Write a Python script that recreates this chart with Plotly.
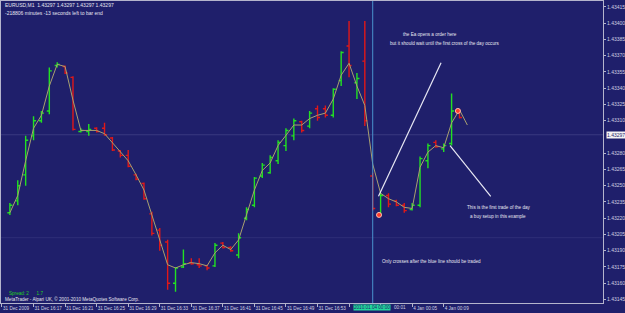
import plotly.graph_objects as go

# ---------------- data ----------------
bar_idx = list(range(1, 59))
opens = [1.43225, 1.43236, 1.43260, 1.43296, 1.43310, 1.43319, 1.43361, 1.43360, 1.43350, 1.43300,
         1.43300, 1.43303, 1.43303, 1.43294, 1.43282, 1.43278, 1.43260, 1.43252, 1.43224, 1.43209,
         1.43198, 1.43160, 1.43175, 1.43179, 1.43177, 1.43176, 1.43176, 1.43197, 1.43193, 1.43186,
         1.43220, 1.43232, 1.43259, 1.43262, 1.43273, 1.43287, 1.43296, 1.43309, 1.43305, 1.43321,
         1.43321, 1.43315, 1.43347, 1.43379, 1.43345, 1.43365, 1.43259, 1.43224, 1.43241, 1.43236,
         1.43232, 1.43228, 1.43232, 1.43273, 1.43290, 1.43284, 1.43289, 1.43319]
highs = [1.43234, 1.43255, 1.43296, 1.43314, 1.43319, 1.43359, 1.43364, 1.43361, 1.43351, 1.43303,
         1.43307, 1.43304, 1.43308, 1.43295, 1.43283, 1.43283, 1.43261, 1.43253, 1.43226, 1.43211,
         1.43200, 1.43175, 1.43191, 1.43183, 1.43183, 1.43177, 1.43197, 1.43198, 1.43194, 1.43206,
         1.43230, 1.43258, 1.43271, 1.43278, 1.43292, 1.43303, 1.43312, 1.43310, 1.43319, 1.43324,
         1.43324, 1.43340, 1.43374, 1.43402, 1.43354, 1.43402, 1.43262, 1.43243, 1.43243, 1.43237,
         1.43234, 1.43234, 1.43277, 1.43289, 1.43292, 1.43289, 1.43335, 1.43321]
lows = [1.43223, 1.43232, 1.43250, 1.43292, 1.43308, 1.43316, 1.43359, 1.43353, 1.43301, 1.43299,
        1.43296, 1.43299, 1.43296, 1.43282, 1.43276, 1.43267, 1.43255, 1.43237, 1.43204, 1.43190,
        1.43154, 1.43152, 1.43174, 1.43177, 1.43174, 1.43172, 1.43175, 1.43192, 1.43189, 1.43183,
        1.43218, 1.43230, 1.43257, 1.43261, 1.43270, 1.43282, 1.43292, 1.43299, 1.43303, 1.43310,
        1.43313, 1.43313, 1.43342, 1.43350, 1.43330, 1.43305, 1.43227, 1.43223, 1.43230, 1.43231,
        1.43225, 1.43227, 1.43230, 1.43266, 1.43285, 1.43281, 1.43287, 1.43312]
closes = [1.43232, 1.43250, 1.43292, 1.43310, 1.43317, 1.43356, 1.43362, 1.43354, 1.43302, 1.43301,
          1.43302, 1.43300, 1.43297, 1.43283, 1.43278, 1.43268, 1.43256, 1.43238, 1.43206, 1.43195,
          1.43160, 1.43174, 1.43178, 1.43178, 1.43176, 1.43174, 1.43195, 1.43193, 1.43190, 1.43202,
          1.43228, 1.43257, 1.43269, 1.43276, 1.43290, 1.43301, 1.43310, 1.43301, 1.43317, 1.43313,
          1.43315, 1.43339, 1.43373, 1.43361, 1.43349, 1.43310, 1.43229, 1.43241, 1.43233, 1.43232,
          1.43227, 1.43232, 1.43275, 1.43287, 1.43286, 1.43287, 1.43319, 1.43313]

ma_idx = list(range(1, 60))
ma_vals = [1.43225, 1.43241, 1.43273, 1.43303, 1.43315, 1.43342, 1.43362, 1.43360, 1.43329, 1.43301,
           1.43301, 1.43301, 1.43298, 1.43290, 1.43281, 1.43273, 1.43260, 1.43246, 1.43223, 1.43200,
           1.43177, 1.43174, 1.43177, 1.43179, 1.43178, 1.43176, 1.43188, 1.43195, 1.43191, 1.43200,
           1.43223, 1.43246, 1.43264, 1.43271, 1.43287, 1.43296, 1.43306, 1.43306, 1.43312, 1.43315,
           1.43317, 1.43330, 1.43352, 1.43363, 1.43342, 1.43324, 1.43270, 1.43243, 1.43238, 1.43235,
           1.43230, 1.43229, 1.43267, 1.43281, 1.43287, 1.43285, 1.43308, 1.43320, 1.43306]

order_idx = [47.8, 57.8]
order_price = [1.43223, 1.43319]

price_ticks = [1.43415, 1.43400, 1.43385, 1.43370, 1.43355, 1.43340, 1.43325, 1.43310,
               1.43280, 1.43265, 1.43250, 1.43235, 1.43220, 1.43205, 1.43190, 1.43175,
               1.43160, 1.43145]
price_labels = ["1.43415", "1.43400", "1.43385", "1.43370", "1.43355", "1.43340", "1.43325", "1.43310",
                "1.43280", "1.43265", "1.43250", "1.43235", "1.43220", "1.43205", "1.43190", "1.43175",
                "1.43160", "1.43145"]
current_price = 1.43297
day_line_price = 1.43202

time_tick_idx = [0, 4, 8, 12, 16, 20, 24, 28, 32, 36, 40, 44, 48, 52, 56]
time_tick_labels = ["31 Dec 2009", "31 Dec 16:17", "31 Dec 16:21", "31 Dec 16:25", "31 Dec 16:29",
                    "31 Dec 16:33", "31 Dec 16:37", "31 Dec 16:41", "31 Dec 16:45", "31 Dec 16:49",
                    "31 Dec 16:53", "", "", "4 Jan 00:05", "4 Jan 00:09"]
new_day_idx = 47
cursor_time_label = "2010.01.04 00:00"
partial_label = "00:01"

# ---------------- layout constants ----------------
W, H = 625, 313
MR, MB = 19, 10
PW, PH = W - MR, H - MB
BG = "#1f1f6b"
FRAME = "#b4b4cc"
FONT = "Liberation Sans"
PX_PER_BAR = 7.94
x0 = -1 / PX_PER_BAR
x1 = x0 + PW / PX_PER_BAR
y_lo, y_hi = 1.431417, 1.434205


def px(xp):
    return x0 + xp / PX_PER_BAR


def py(yp):
    return y_hi - (y_hi - y_lo) * yp / PH


fig = go.Figure()

fig.add_trace(go.Scatter(x=ma_idx, y=ma_vals, mode="lines",
                         line=dict(color="#a8a070", width=1), hoverinfo="skip", showlegend=False))

fig.add_trace(go.Ohlc(x=bar_idx, open=opens, high=highs, low=lows, close=closes,
                      increasing=dict(line=dict(color="#22e022", width=1.4)),
                      decreasing=dict(line=dict(color="#e01818", width=1.4)),
                      tickwidth=0.32, showlegend=False))

fig.add_trace(go.Scatter(x=order_idx, y=order_price, mode="markers",
                         marker=dict(color="#ff3a2a", size=5, line=dict(color="#ffc0b0", width=1)),
                         showlegend=False))

shapes = [
    dict(type="line", xref="paper", x0=0, x1=1, yref="y", y0=current_price, y1=current_price,
         line=dict(color="#3a3a80", width=1), layer="below"),
    dict(type="line", xref="paper", x0=0, x1=1, yref="y", y0=day_line_price, y1=day_line_price,
         line=dict(color="#2e2e78", width=1), layer="below"),
    dict(type="line", xref="x", x0=new_day_idx, x1=new_day_idx, yref="paper", y0=0, y1=1,
         line=dict(color="#4a92cc", width=1)),
    dict(type="line", xref="x", yref="y", x0=px(380), y0=py(196), x1=px(443), y1=py(62),
         line=dict(color="#e8e8f4", width=1.2)),
    dict(type="line", xref="x", yref="y", x0=px(452), y0=py(145), x1=px(493), y1=py(196),
         line=dict(color="#e8e8f4", width=1.2)),
]

TXT = "#e6e6f0"
annots = []


def note(text, xp, yp, color=TXT, size=4.6, anchor="left", bg=None):
    d = dict(text=text, xref="paper", yref="paper", x=xp / PW, y=1 - yp / PH,
             xanchor=anchor, yanchor="middle", showarrow=False,
             font=dict(family=FONT, size=size, color=color))
    if bg:
        d.update(bgcolor=bg, borderpad=0)
    annots.append(d)


note("EURUSD,M1  1.43297 1.43297 1.43297 1.43297", 2, 4.5, size=5)
note("-218806 minutes -13 seconds left to bar end", 2, 12, size=5)
note("the Ea opens a order here", 432, 34, anchor="center")
note("but it should wait until the first cross of the day occurs", 446, 43, anchor="center")
note("This is the first trade of the day", 501, 207, anchor="center")
note("a buy setup in this example", 500, 216, anchor="center")
note("Only crosses after the blue line should be traded", 382, 261)
note("Spread: 2      1.7", 6, 293, color="#22d022", size=4.6)
note("MetaTrader - Alpari UK, \u00a9 2001-2010 MetaQuotes Software Corp.", 2, 298.5, size=4.6)
note(cursor_time_label, 373, 307.5, color="#1f1f6b", size=4.6, anchor="center", bg="#22d89c")
note(partial_label, 394, 307.5, color="#d0d0e0", size=4.6)
note("1.43297", 609, 134.5, color="#1f1f6b", size=5, bg="#f4f4f4")

fig.update_layout(
    width=W, height=H,
    margin=dict(l=0, r=MR, t=0, b=MB, pad=0),
    paper_bgcolor=BG, plot_bgcolor=BG,
    shapes=shapes, annotations=annots,
    font=dict(family=FONT, size=5, color="#d0d0e0"),
    xaxis=dict(range=[x0, x1], rangeslider=dict(visible=False), showgrid=False, zeroline=False,
               tickmode="array", tickvals=time_tick_idx, ticktext=time_tick_labels,
               tickangle=0, ticks="outside", ticklen=3, tickcolor=FRAME,
               ticklabelposition="outside right",
               tickfont=dict(family=FONT, size=4.6, color="#d0d0e0"),
               showline=True, linecolor=FRAME, linewidth=1, mirror=True),
    yaxis=dict(range=[y_lo, y_hi], side="right", showgrid=False, zeroline=False,
               tickmode="array", tickvals=price_ticks, ticktext=price_labels,
               ticks="outside", ticklen=2, tickcolor=FRAME,
               tickfont=dict(family=FONT, size=5, color="#d0d0e0"),
               showline=True, linecolor=FRAME, linewidth=1, mirror=True),
)

fig.write_html("out.html")
